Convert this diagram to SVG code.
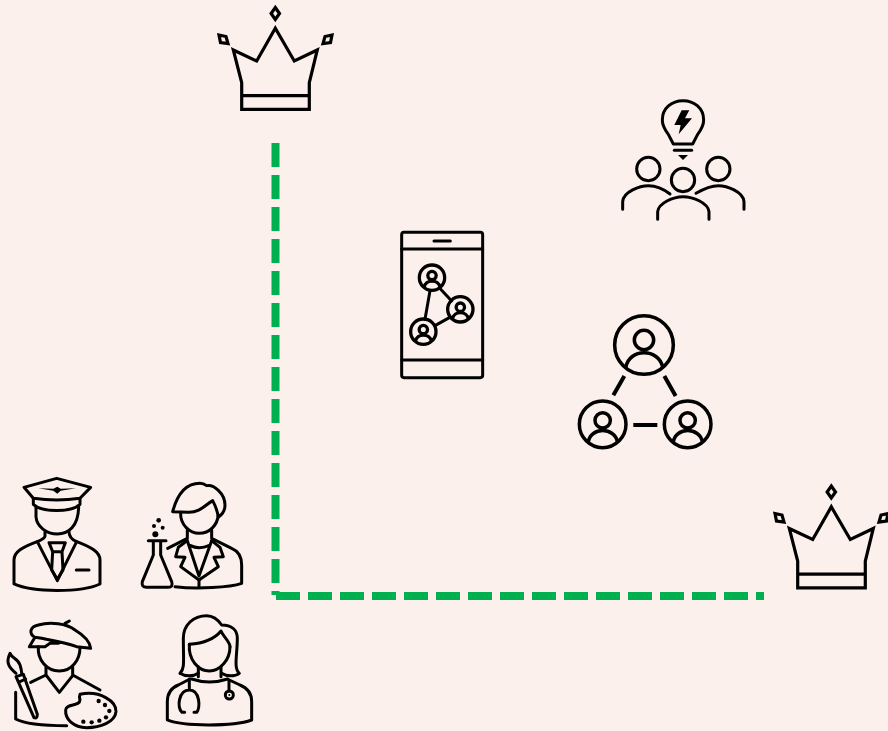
<svg xmlns="http://www.w3.org/2000/svg" xmlns:xlink="http://www.w3.org/1999/xlink" width="888" height="731" viewBox="0 0 888 731">
<style>
.i{fill:none;stroke:#000;stroke-width:9;stroke-linecap:round;stroke-linejoin:round}
.c{fill:none;stroke:#000;stroke-width:3.2;stroke-linejoin:miter}
.f{fill:#000;stroke:none}
.d{fill:none;stroke:#00B050;stroke-width:8;stroke-dasharray:24 8}
</style>
<defs>
<g id="crown">
<path class="c" d="M233.3 50L256.7 61L275.3 28.3L294.3 61L317.3 50L309.3 82.7V109.3H241.7V82.7Z"/>
<path class="c" d="M241.7 95.7H309.3"/>
<path class="c" d="M275.3 7.5L279.5 13.5L275.3 19.5L271.1 13.5Z"/>
<path class="c" d="M219 35L226 36.5L228 43.5L220.5 42.5Z"/>
<path class="c" d="M332 35L325 36.5L323 43.5L330.5 42.5Z"/>
</g>
<g id="person">
<circle cx="0" cy="0" r="100" fill="none" stroke="#000"/>
<circle cx="0" cy="-17" r="33" fill="none" stroke="#000"/>
<path d="M-62 77C-52 10 52 10 64 77" fill="none" stroke="#000"/>
</g>
</defs>
<rect width="888" height="731" fill="#FBF0EC"/>
<g id="connectors">
<path class="d" d="M275.5 143V595"/>
<path class="d" d="M276 596H764"/>
</g>
<g id="crown-top"><use href="#crown"/></g>
<g id="crown-right"><use href="#crown" transform="translate(556 478.5)"/></g>
<g id="idea-team" transform="translate(610 95) scale(.3333)">
<path class="i" d="M190 147L175 118C165 105 157 92 157 75C157 40 185 17 219 17C253 17 281 40 281 75C281 92 273 105 263 118L248 147Z"/>
<path class="i" d="M193 166H245"/>
<path class="f" d="M204 180H234L219 195Z"/>
<path class="f" d="M215 46L193 90H212L206 118L246 70H225L238 46Z"/>
<circle class="i" cx="115" cy="222" r="35"/>
<circle class="i" cx="325" cy="222" r="35"/>
<circle class="i" cx="219" cy="255" r="35"/>
<path class="i" d="M38 343V320C40 290 90 272 115 272C140 272 165 285 180 297"/>
<path class="i" d="M402 343V320C400 290 350 272 325 272C300 272 275 285 258 295"/>
<path class="i" d="M143 373V350C145 325 190 305 219 305C250 305 295 325 297 350V373"/>
</g>
<g id="phone" transform="translate(390 225) scale(.3333)">
<rect class="i" x="35" y="22" width="243" height="436" rx="7"/>
<path class="i" d="M35 72H278M35 405H278M132 48H181"/>
<path class="i" d="M120 197L105 283M148 188L185 228M135 302L178 278"/>
<use href="#person" transform="translate(126 158) scale(.38)" stroke-width="26"/>
<use href="#person" transform="translate(211 253) scale(.38)" stroke-width="26"/>
<use href="#person" transform="translate(100 320) scale(.38)" stroke-width="26"/>
</g>
<g id="network" transform="translate(570 310) scale(.3333)">
<use href="#person" transform="translate(222 105) scale(.88)" stroke-width="12"/>
<use href="#person" transform="translate(98 343) scale(.7)" stroke-width="15"/>
<use href="#person" transform="translate(353 343) scale(.7)" stroke-width="15"/>
<path fill="none" stroke="#000" stroke-width="12" d="M163 198L130 256M283 198L317 258M190 345H262"/>
</g>
<g id="pilot" transform="translate(0 470) scale(.3333)">
<path class="i" d="M72 52L170 25L272 52L240 85Q170 95 100 85Z"/>
<path class="i" d="M100 85V103C125 128 215 128 240 103V85"/>
<path class="f" d="M115 55L160 56L172 50L182 56L228 55L182 62L172 71L160 62Z"/>
<path class="i" d="M108 110V140C110 170 140 192 172 192C205 192 235 170 236 110"/>
<path class="i" d="M135 185V198Q135 205 112 215C70 230 42 245 42 270V342C100 368 245 368 300 342V270C300 245 270 230 230 215Q207 205 207 185"/>
<path class="i" d="M112 215L172 332L230 215"/>
<path class="i" d="M147 218H196L186 245H158ZM158 245L155 300L172 328L189 300L186 245"/>
<path class="i" d="M229 300H267"/>
</g>
<g id="scientist" transform="translate(130 470) scale(.3333)">
<path class="i" d="M128 125C140 80 165 40 210 40C220 40 226 44 230 47C250 42 285 70 285 105C285 125 275 135 265 142C262 120 255 105 248 92C225 105 210 128 175 127Z"/>
<path class="i" d="M152 128C150 165 180 190 207 190C240 190 262 165 265 135"/>
<path class="i" d="M172 180V205L113 235M245 180V205L305 235C330 245 335 265 335 285V340C300 352 200 358 135 350"/>
<path class="i" d="M172 212L145 232L137 260L165 262L152 290L207 330L265 290L252 262L280 260L270 232L245 212"/>
<path class="i" d="M172 212L207 318L245 212M180 226Q207 240 238 226M207 330V352"/>
<path class="i" d="M55 212H108M70 212V255L37 335Q33 352 50 352H115Q130 352 125 335L92 255V212"/>
<circle class="f" cx="76" cy="193" r="9"/><circle class="f" cx="72" cy="168" r="6"/><circle class="f" cx="86" cy="151" r="7"/><circle class="f" cx="98" cy="173" r="6"/>
</g>
<g id="painter" transform="translate(0 605) scale(.3333)">
<path class="i" d="M105 97C85 85 90 65 115 60C150 50 200 55 225 75C250 90 270 110 272 130L230 125C190 110 150 105 125 100L105 97L88 125H135L150 115L175 115"/>
<path class="i" d="M195 55L208 48"/>
<path class="i" d="M115 125C112 165 140 198 178 198C215 198 240 165 240 128"/>
<path class="i" d="M138 185V210L92 232M218 185V210L300 255M138 210L178 262L218 212"/>
<path class="i" d="M47 262V342C80 360 150 362 200 362"/>
<path class="i" d="M48 215L70 208L112 328Q112 342 102 338ZM55 232L77 222"/>
<path class="i" d="M48 205C30 190 15 175 30 145C35 160 55 160 60 180Q65 195 65 205"/>
<path class="i" d="M240 268C300 255 350 290 348 320C345 352 300 368 260 368C220 368 195 342 197 315C198 295 240 305 240 285C238 278 238 272 240 268Z"/>
<g class="f"><circle cx="296" cy="288" r="6.5"/><circle cx="315" cy="300" r="6.5"/><circle cx="328" cy="318" r="6.5"/><circle cx="318" cy="337" r="6.5"/><circle cx="298" cy="347" r="6.5"/><circle cx="275" cy="352" r="6.5"/><circle cx="250" cy="350" r="6.5"/></g>
</g>
<g id="doctor" transform="translate(150 605) scale(.3333)">
<path class="i" d="M90 205C105 190 100 170 100 100C100 60 130 32 170 32C190 32 205 45 215 60C245 60 262 75 262 100C262 150 250 190 268 205C255 215 230 215 215 205M90 205C105 215 130 215 145 205"/>
<path class="i" d="M118 118C160 115 195 100 213 78C220 95 240 110 240 125"/>
<path class="i" d="M118 118C115 165 145 198 178 198C210 198 240 165 240 125"/>
<path class="i" d="M145 185V215M213 185V215M125 222Q178 240 233 222"/>
<path class="i" d="M120 222L85 240C60 250 52 270 52 290V345C100 365 250 365 305 345V290C305 270 295 250 270 240L238 225"/>
<path class="i" d="M118 222V255C85 255 80 310 96 322H104M118 255C150 255 152 310 140 322H132"/>
<path class="i" d="M237 225V258"/>
<circle class="i" cx="238" cy="270" r="12"/>
<circle class="f" cx="238" cy="270" r="3"/>
</g>
</svg>
